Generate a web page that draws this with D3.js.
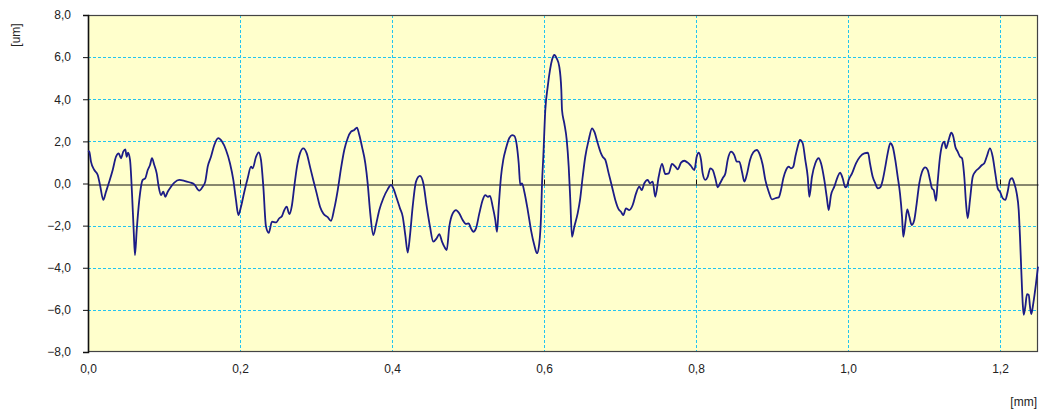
<!DOCTYPE html>
<html><head><meta charset="utf-8">
<script src="https://cdn.jsdelivr.net/npm/d3@7"></script>
<style>
html,body{margin:0;padding:0;background:#fff;}
svg text{font-family:"Liberation Sans",Arial,sans-serif;font-size:12px;fill:#222;}
</style></head>
<body><svg id="c" width="1044" height="412"></svg>
<script>
// profile x positions [mm]
const xValues = [0,0.0017,0.0039,0.0083,0.0128,0.0158,0.0201,0.0237,0.0280,0.0325,0.0368,0.0404,0.0434,0.0464,0.0491,0.0509,0.0526,0.0553,0.0579,0.0601,0.0618,0.0641,0.0675,0.0720,0.0754,0.0786,0.0816,0.0842,0.0872,0.0904,0.0930,0.0961,0.0991,0.1017,0.1049,0.1092,0.1136,0.1201,0.1267,0.1333,0.1399,0.1464,0.1509,0.1543,0.1575,0.1618,0.1662,0.1714,0.1763,0.1816,0.1868,0.1912,0.1947,0.1978,0.2013,0.2057,0.2101,0.2145,0.2167,0.2211,0.2246,0.2276,0.2307,0.2342,0.2378,0.2421,0.2474,
0.2517,0.2553,0.2583,0.2614,0.2649,0.2684,0.2714,0.2750,0.2789,0.2833,0.2878,0.2921,0.2964,0.3009,0.3053,0.3096,0.3154,0.3197,0.3241,0.3286,0.3329,0.3372,0.3417,0.3461,0.3504,0.3539,0.3570,0.3605,0.3649,0.3680,0.3714,0.3754,0.3789,0.3833,0.3886,0.3943,0.3987,0.4017,0.4062,0.4105,0.4141,0.4175,0.4207,0.4237,0.4272,0.4316,0.4368,0.4412,0.4457,0.4500,0.4543,0.4588,0.4622,0.4658,0.4688,0.4720,0.4754,0.4799,0.4842,0.4886,0.4930,0.4974,
0.5009,0.5039,0.5070,0.5105,0.5149,0.5193,0.5228,0.5259,0.5289,0.5325,0.5359,0.5382,0.5404,0.5434,0.5464,0.5500,0.5543,0.5579,0.5609,0.5641,0.5667,0.5688,0.5711,0.5741,0.5786,0.5829,0.5872,0.5908,0.5938,0.5961,0.5974,0.5991,0.6017,0.6049,0.6079,0.6105,0.6136,0.6167,0.6201,0.6228,0.6237,0.6267,0.6299,0.6325,0.6346,0.6368,0.6399,0.6443,0.6474,0.6509,0.6543,0.6588,0.6632,0.6662,0.6707,0.6750,0.6772,0.6807,0.6851,0.6895,0.6938,0.6983,0.7013,0.7043,0.7079,0.7122,0.7167,0.7211,0.7254,0.7286,0.7320,0.7364,0.7395,0.7430,0.7464,
0.7509,0.7553,0.7596,0.7641,0.7684,0.7728,0.7759,0.7803,0.7846,0.7891,0.7934,0.7978,0.8009,0.8036,0.8066,0.8088,0.8122,0.8154,0.8188,0.8220,0.8254,0.8286,0.8316,0.8351,0.8386,0.8417,0.8461,0.8504,0.8536,0.8570,0.8605,0.8636,0.8667,0.8711,0.8754,0.8799,0.8842,0.8878,0.8912,0.8957,0.9000,0.9043,0.9088,0.9118,0.9149,0.9184,0.9220,0.9250,0.9280,0.9307,0.9338,0.9368,0.9404,0.9438,0.9470,0.9491,0.9526,0.9570,0.9614,0.9645,0.9688,0.9720,0.9746,0.9776,0.9820,0.9864,0.9895,0.9930,0.9964,
0.9983,1.0009,1.0053,1.0105,1.0158,1.0214,1.0263,1.0289,1.0325,1.0359,1.0391,1.0425,1.0457,1.0491,1.0522,1.0557,1.0588,1.0622,1.0654,1.0684,1.0711,1.0728,1.0754,1.0780,1.0807,1.0838,1.0872,1.0904,1.0938,1.0974,1.1017,1.1049,1.1079,1.1105,1.1128,1.1158,1.1180,1.1211,1.1246,1.1267,1.1289,1.1325,1.1359,1.1386,1.1412,1.1443,1.1474,1.1500,1.1530,1.1553,1.1575,1.1605,1.1641,1.1675,1.1720,1.1763,1.1793,1.1825,1.1868,1.1904,1.1938,1.1970,1.2000,1.2036,1.2070,1.2101,1.2132,1.2158,1.2188,1.2220,1.2246,1.2263,1.2280,1.2299,1.2312,1.2333,1.2355,1.2378,1.2395,1.2412,1.2438,1.2474,1.2500];
// profile heights [um]
const yValues = [1.55,1.51,1.04,0.64,0.40,-0.07,-0.78,-0.39,0.09,0.64,1.27,1.43,1.20,1.51,1.62,1.27,1.46,1.12,-0.47,-2.21,-3.40,-2.21,-0.78,0.17,0.25,0.64,0.88,1.20,0.88,0.48,-0.15,-0.55,-0.39,-0.63,-0.39,-0.15,0.04,0.17,0.13,0.06,-0.04,-0.34,-0.15,0.09,0.80,1.27,1.83,2.15,1.99,1.59,0.96,0.17,-0.78,-1.50,-1.10,-0.39,0.25,0.80,0.72,1.27,1.48,1.12,-0.15,-2.05,-2.34,-1.81,-1.85,
-1.65,-1.54,-1.26,-1.10,-1.45,-1.02,-0.15,0.80,1.43,1.67,1.43,0.80,0.17,-0.47,-1.10,-1.42,-1.60,-1.77,-1.18,-0.31,0.72,1.59,2.15,2.46,2.54,2.65,2.30,1.75,0.96,0.01,-1.42,-2.45,-1.97,-1.26,-0.70,-0.28,-0.07,-0.23,-0.70,-1.18,-1.57,-2.45,-3.28,-2.45,-1.10,0.09,0.36,0.01,-1.10,-2.05,-2.76,-2.60,-2.40,-2.76,-3.00,-3.16,-2.05,-1.42,-1.26,-1.42,-1.73,-1.92,
-1.89,-2.13,-2.29,-2.13,-1.42,-0.78,-0.55,-0.63,-0.59,-1.10,-1.73,-2.29,-1.10,0.32,1.12,1.67,2.15,2.30,2.26,1.83,0.96,-0.07,0.01,-0.39,-1.26,-2.21,-2.92,-3.31,-2.84,-1.57,0.01,1.27,3.49,4.60,5.39,5.86,6.10,5.94,5.55,4.44,3.49,2.86,2.07,0.80,-0.78,-2.53,-2.05,-1.42,-0.78,0.32,1.27,2.07,2.62,2.46,1.91,1.43,1.27,1.12,0.48,-0.15,-0.78,-1.23,-1.34,-1.50,-1.18,-1.26,-1.02,-0.47,-0.15,-0.31,0.01,0.17,0.01,0.09,-0.63,
0.32,0.93,0.45,0.48,0.93,0.80,0.67,0.99,1.08,0.99,0.83,0.64,1.27,1.46,1.12,0.48,0.17,0.32,0.72,0.64,0.25,-0.18,0.01,0.25,0.48,1.12,1.51,1.35,1.04,1.04,0.56,0.09,0.40,1.12,1.48,1.59,1.35,0.88,0.17,-0.39,-0.75,-0.70,-0.66,-0.31,0.25,0.64,0.80,0.72,0.80,1.27,1.75,2.07,1.91,1.12,0.32,-0.63,0.32,0.96,1.20,0.96,0.17,-0.63,-1.26,-0.55,-0.15,0.32,0.51,0.25,-0.18,
-0.15,0.17,0.48,0.96,1.27,1.43,1.46,0.96,0.32,0.01,-0.23,-0.18,0.17,0.80,1.43,1.91,1.75,1.12,0.32,-0.47,-1.57,-2.53,-1.89,-1.23,-1.57,-1.97,-1.73,-0.94,0.01,0.56,0.77,0.64,0.17,-0.23,-0.31,-0.82,0.09,1.27,1.91,1.99,1.67,2.07,2.41,2.22,1.75,1.51,1.27,1.20,0.32,-0.94,-1.65,-0.78,0.32,0.56,0.72,0.88,0.96,1.27,1.67,1.27,0.48,-0.23,-0.39,-0.70,-0.78,-0.39,0.17,0.25,0.01,-0.47,-1.26,-2.53,-4.11,-5.69,-6.24,-5.85,-5.25,-5.29,-5.85,-6.20,-5.69,-4.74,-3.95];
const xTicks = [0,0.2,0.4,0.6,0.8,1.0,1.2];
const yTicks = [-8,-6,-4,-2,0,2,4,6,8];
const xUnit = "[mm]";
const yUnit = "[um]";

const svg = d3.select("#c");
const L = 88, R = 1038, T = 15, B = 352;
const x = d3.scaleLinear().domain([0,1.25]).range([L,R]);
const y = d3.scaleLinear().domain([-8,8]).range([B,T]);
const fmt = d => d3.format(".1f")(d).replace(".", ",");

svg.append("rect").attr("x",L).attr("y",T).attr("width",R-L).attr("height",B-T).attr("fill","#ffffcc");

// grid
svg.append("g").selectAll("line").data(yTicks.filter(d=>d!==0 && d!==8 && d!==-8)).join("line")
  .attr("x1",L).attr("x2",R).attr("y1",d=>Math.round(y(d))+0.5).attr("y2",d=>Math.round(y(d))+0.5)
  .attr("stroke","#22c4f0").attr("stroke-width",1).attr("stroke-dasharray","3,2");
svg.append("g").selectAll("line").data(xTicks.filter(d=>d!==0)).join("line")
  .attr("y1",T).attr("y2",B).attr("x1",d=>Math.round(x(d))+0.5).attr("x2",d=>Math.round(x(d))+0.5)
  .attr("stroke","#22c4f0").attr("stroke-width",1).attr("stroke-dasharray","3,2");

// frame
svg.append("rect").attr("x",L+0.5).attr("y",T+0.5).attr("width",R-L-1).attr("height",B-T-1)
  .attr("fill","none").attr("stroke","#444").attr("stroke-width",1.2);

// y axis
const ya = svg.append("g").attr("transform",`translate(${L},0)`)
  .call(d3.axisLeft(y).tickValues(yTicks).tickFormat(fmt).tickSize(5).tickPadding(12));
ya.select(".domain").attr("stroke","#111").attr("stroke-width",1.5);
ya.selectAll(".tick line").attr("stroke","#111");
ya.selectAll("text").style("font-size","12px").attr("fill","#222");

// zero line with ticks (x axis)
const y0 = Math.round(y(0))+0.5;
const xa = svg.append("g").attr("transform",`translate(0,${y0})`)
  .call(d3.axisTop(x).tickValues(xTicks).tickFormat("").tickSize(5).tickSizeOuter(0));
xa.select(".domain").attr("stroke","#111").attr("stroke-width",1);
xa.selectAll(".tick line").attr("stroke","#111");

// x tick labels at bottom
const xb = svg.append("g").attr("transform",`translate(0,${B})`)
  .call(d3.axisBottom(x).tickValues(xTicks).tickFormat(fmt).tickSize(0).tickPadding(12));
xb.select(".domain").remove();
xb.selectAll("text").style("font-size","12px").attr("fill","#222");

// line
svg.append("path").datum(d3.range(xValues.length))
  .attr("fill","none").attr("stroke","#1c1c86").attr("stroke-width",1.8).attr("stroke-linejoin","round")
  .attr("d", d3.line().curve(d3.curveMonotoneX).x(i=>x(xValues[i])).y(i=>y(yValues[i])));

// unit labels
svg.append("text").attr("x",1037).attr("y",406).attr("text-anchor","end").text(xUnit);
svg.append("text").attr("transform","translate(20,35) rotate(-90)").attr("text-anchor","middle").text(yUnit);
</script></body></html>
